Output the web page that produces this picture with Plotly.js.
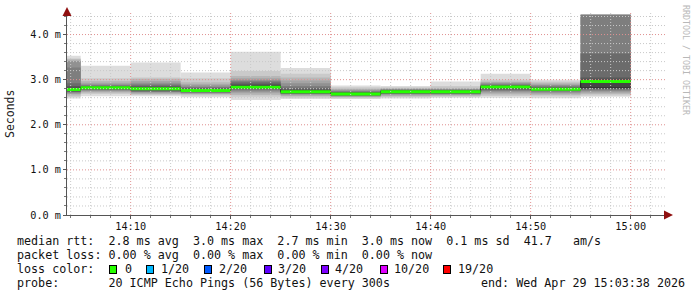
<!DOCTYPE html>
<html><head><meta charset="utf-8">
<script src="https://cdn.plot.ly/plotly-3.0.1.min.js"></script>
<style>html,body{margin:0;padding:0;background:#fff;}#chart{width:697px;height:297px;}</style>
</head><body><div id="chart"></div>
<script>
// ---- data ----
const intervalEnds = ['2026-04-29 14:05:00','2026-04-29 14:10:00','2026-04-29 14:15:00','2026-04-29 14:20:00',
  '2026-04-29 14:25:00','2026-04-29 14:30:00','2026-04-29 14:35:00','2026-04-29 14:40:00',
  '2026-04-29 14:45:00','2026-04-29 14:50:00','2026-04-29 14:55:00','2026-04-29 15:00:00'];
const stepSeconds = 300;
const medianRtt = [2.78, 2.82, 2.80, 2.76, 2.83, 2.73, 2.68, 2.73, 2.73, 2.84, 2.79, 2.96];
const lossCount = [0, 0, 0, 0, 0, 0, 0, 0, 0, 0, 0, 0];
// 20 sorted ping times (ms) per interval
const ping_1405 = [2.58,2.62,2.65,2.68,2.70,2.72,2.73,2.74,2.75,2.77,2.79,2.82,2.86,2.92,3.27,3.41,3.42,3.45,3.47,3.53];
const ping_1410 = [2.63,2.68,2.71,2.73,2.75,2.77,2.78,2.79,2.80,2.81,2.82,2.84,2.85,2.86,2.88,2.90,2.93,2.97,3.03,3.31];
const ping_1415 = [2.63,2.66,2.68,2.70,2.72,2.73,2.74,2.76,2.78,2.79,2.81,2.83,2.85,2.87,2.90,2.93,2.97,3.02,3.05,3.38];
const ping_1420 = [2.61,2.65,2.67,2.69,2.70,2.71,2.72,2.73,2.74,2.75,2.77,2.78,2.80,2.82,2.84,2.87,2.90,2.94,3.03,3.16];
const ping_1425 = [2.55,2.62,2.66,2.70,2.73,2.76,2.78,2.80,2.81,2.83,2.85,2.88,2.91,2.94,2.97,3.00,3.03,3.08,3.19,3.62];
const ping_1430 = [2.57,2.60,2.63,2.65,2.67,2.68,2.69,2.70,2.71,2.72,2.74,2.77,2.79,2.82,2.86,2.92,2.98,3.05,3.13,3.26];
const ping_1435 = [2.57,2.59,2.61,2.62,2.63,2.64,2.65,2.66,2.67,2.67,2.69,2.70,2.72,2.73,2.74,2.76,2.78,2.80,2.83,2.87];
const ping_1440 = [2.58,2.61,2.63,2.65,2.67,2.68,2.69,2.70,2.71,2.72,2.74,2.75,2.76,2.77,2.78,2.79,2.80,2.81,2.83,2.86];
const ping_1445 = [2.60,2.62,2.64,2.66,2.67,2.68,2.69,2.70,2.71,2.72,2.74,2.75,2.76,2.77,2.78,2.79,2.80,2.82,2.86,2.96];
const ping_1450 = [2.60,2.64,2.67,2.70,2.73,2.75,2.77,2.79,2.81,2.83,2.85,2.86,2.87,2.88,2.90,2.92,2.94,2.96,3.00,3.13];
const ping_1455 = [2.59,2.63,2.66,2.69,2.71,2.73,2.75,2.76,2.77,2.78,2.80,2.81,2.82,2.84,2.86,2.88,2.90,2.93,2.96,3.00];
const ping_1500 = [2.62,2.65,2.68,2.71,2.74,2.76,2.78,2.80,2.81,2.82,2.84,3.00,3.05,3.58,4.44,4.44,4.44,4.44,4.44,4.44];

const xRange = ['2026-04-29 14:03:38', '2026-04-29 15:03:38'];
const xTickVals = ['2026-04-29 14:10','2026-04-29 14:20','2026-04-29 14:30','2026-04-29 14:40','2026-04-29 14:50','2026-04-29 15:00'];
const xTickText = ['14:10','14:20','14:30','14:40','14:50','15:00'];
const yTickVals = [0, 1, 2, 3, 4];
const yTickText = ['0.0 m','1.0 m','2.0 m','3.0 m','4.0 m'];
const yMax = 4.5;

const lossLevels = [0, 1, 2, 3, 4, 10, 19];
const lossLabels = ['0','1/20','2/20','3/20','4/20','10/20','19/20'];
const lossColors = ['#26ff00','#00b8ff','#0059ff','#5e00ff','#7e00ff','#dd00ff','#ff0000'];

const legendLines = [
  'median rtt:  2.8 ms avg  3.0 ms max  2.7 ms min  3.0 ms now  0.1 ms sd  41.7   am/s',
  'packet loss: 0.00 % avg  0.00 % max  0.00 % min  0.00 % now',
  'loss color:',
  'probe:       20 ICMP Echo Pings (56 Bytes) every 300s'
];
const endText = 'end: Wed Apr 29 15:03:38 2026';
const yTitle = 'Seconds';
const watermark = 'RRDTOOL / TOBI OETIKER';

// ---- layout constants (pixels) ----
const W = 697, H = 297, ML = 67, MR = 30, MT = 12, MB = 82;
const PW = W - ML - MR, PH = H - MT - MB;
const px = x => (x - ML) / PW;
const py = y => (H - MB - y) / PH;
const rowY = [241, 255, 269, 283];
const swatchX = [108.5, 146, 204, 264, 320.5, 379.5, 443];
const swatchLabelX = [123.5, 160, 217.5, 277, 333.5, 392.5, 456.5];

function shift(str, sec) {
  const d = new Date(str.replace(' ', 'T') + 'Z');
  return new Date(d.getTime() + sec * 1000).toISOString().replace('T', ' ').slice(0, 19);
}
const nb = s => s.replace(/ /g, '\u00a0');

// ---- traces ----
const pingSets = [ping_1405,ping_1410,ping_1415,ping_1420,ping_1425,ping_1430,ping_1435,ping_1440,ping_1445,ping_1450,ping_1455,ping_1500];
const nPings = 20, half = nPings / 2;
const traces = [];
for (let k = 1; k <= half; k++) {
  const c = Math.floor(190 / half * (half - k)) + 50;
  const h = c.toString(16).padStart(2, '0');
  traces.push({
    type: 'bar', x: intervalEnds,
    base: pingSets.map(p => p[k - 1]),
    y: pingSets.map(p => p[nPings - k] - p[k - 1]),
    width: stepSeconds * 1000, offset: -stepSeconds * 1000,
    marker: {color: '#' + h + h + h, line: {width: 0}},
    hoverinfo: 'skip', showlegend: false
  });
}
// black median step line
const starts = intervalEnds.map(t => shift(t, -stepSeconds));
traces.push({
  type: 'scatter', mode: 'lines',
  x: [starts[0]].concat(intervalEnds), y: [medianRtt[0]].concat(medianRtt),
  line: {color: '#202020', width: 1, shape: 'vh'}, hoverinfo: 'skip', showlegend: false
});
// loss-coloured median bands
function levelIndex(loss) {
  for (let i = 0; i < lossLevels.length; i++) if (loss <= lossLevels[i]) return i;
  return lossLevels.length - 1;
}
lossLevels.forEach((lv, li) => {
  const xs = [], ys = [];
  medianRtt.forEach((m, i) => {
    if (levelIndex(lossCount[i]) === li) { xs.push(starts[i], intervalEnds[i], null); ys.push(m, m, null); }
  });
  if (xs.length) traces.push({type: 'scatter', mode: 'lines', x: xs, y: ys, connectgaps: false,
    line: {color: lossColors[li], width: 3}, hoverinfo: 'skip', showlegend: false});
});

// ---- grid (drawn above the smoke, like rrdtool) ----
const shapes = [];
let t = '2026-04-29 14:04:00';
while (t <= xRange[1]) {
  const major = t.slice(15, 16) === '0';
  shapes.push({type: 'line', layer: 'above', xref: 'x', yref: 'paper', x0: t, x1: t, y0: 0, y1: 1,
    line: {color: major ? '#e09090' : '#c8c8c8', width: 1, dash: '1px,2px'}});
  t = shift(t, 120);
}
const minorX = [];
for (let s = 0; s < shapes.length; s++) minorX.push(shapes[s].x0);
const minorY = [];
for (let i = 1; i * 0.2 < yMax; i++) {
  const v = Math.round(i * 0.2 * 10) / 10;
  minorY.push(v);
  const major = Math.abs(v - Math.round(v)) < 1e-9;
  shapes.push({type: 'line', layer: 'above', xref: 'paper', yref: 'y', x0: 0, x1: 1, y0: v, y1: v,
    line: {color: major ? '#e09090' : '#c8c8c8', width: 1, dash: '1px,2px'}});
}

// ---- annotations ----
const mono = 'DejaVu Sans Mono, monospace';
const ann = [];
ann.push({xref: 'paper', yref: 'paper', x: px(10), y: py(114), text: yTitle, textangle: -90, showarrow: false,
  font: {family: mono, size: 11.5, color: '#222'}, xanchor: 'center', yanchor: 'middle'});
ann.push({xref: 'paper', yref: 'paper', x: px(686), y: py(60), text: nb(watermark), textangle: 90, showarrow: false,
  font: {family: mono, size: 8.3, color: '#b8b8b8'}, xanchor: 'center', yanchor: 'middle'});
legendLines.forEach((s, i) => ann.push({xref: 'paper', yref: 'paper', x: px(16), y: py(rowY[i]), text: nb(s),
  showarrow: false, xanchor: 'left', yanchor: 'middle', borderpad: 0, font: {family: mono, size: 11.7, color: '#111'}}));
ann.push({xref: 'paper', yref: 'paper', x: px(480), y: py(rowY[3]), text: nb(endText), showarrow: false,
  xanchor: 'left', yanchor: 'middle', borderpad: 0, font: {family: mono, size: 11.7, color: '#111'}});
lossLabels.forEach((lab, i) => {
  ann.push({xref: 'paper', yref: 'paper', x: px(swatchX[i]), y: py(rowY[2]), text: '\u00a0', showarrow: false,
    xanchor: 'left', yanchor: 'middle', width: 6, height: 7, bgcolor: lossColors[i], bordercolor: '#000',
    borderwidth: 1, borderpad: 0, font: {family: mono, size: 6}});
  ann.push({xref: 'paper', yref: 'paper', x: px(swatchLabelX[i]), y: py(rowY[2]), text: lab, showarrow: false,
    xanchor: 'left', yanchor: 'middle', borderpad: 0, font: {family: mono, size: 11.7, color: '#111'}});
});
// axis arrows
ann.push({xref: 'paper', yref: 'paper', x: 0, y: py(7), ax: 0, ay: 6, text: '', showarrow: true,
  arrowhead: 2, arrowsize: 1.2, arrowwidth: 1.5, arrowcolor: '#901010'});
ann.push({xref: 'paper', yref: 'paper', x: px(673), y: 0, ax: -7, ay: 0, text: '', showarrow: true,
  arrowhead: 2, arrowsize: 1.2, arrowwidth: 1.5, arrowcolor: '#901010'});

const layout = {
  width: W, height: H, margin: {l: ML, r: MR, t: MT, b: MB, pad: 0},
  paper_bgcolor: '#ffffff', plot_bgcolor: '#ffffff', showlegend: false, barmode: 'overlay',
  font: {family: mono, size: 10.5, color: '#111'},
  xaxis: {type: 'date', range: xRange, tickmode: 'array', tickvals: xTickVals, ticktext: xTickText,
    showgrid: false, zeroline: false, showline: true, linecolor: '#555', linewidth: 1,
    ticks: 'outside', ticklen: 3, tickcolor: '#555', ticklabelstandoff: -1,
    tickfont: {family: mono, size: 10.2, color: '#111'},
    minor: {tickmode: 'array', tickvals: minorX, ticks: 'outside', ticklen: 2, tickcolor: '#777', showgrid: false},
    fixedrange: true},
  yaxis: {range: [0, yMax], tickmode: 'array', tickvals: yTickVals, ticktext: yTickText,
    showgrid: false, zeroline: false, showline: true, linecolor: '#555', linewidth: 1,
    ticks: 'outside', ticklen: 3, tickcolor: '#555', tickfont: {family: mono, size: 10.2, color: '#111'},
    minor: {tickmode: 'array', tickvals: minorY, ticks: 'outside', ticklen: 2, tickcolor: '#777', showgrid: false},
    fixedrange: true},
  shapes: shapes, annotations: ann
};
Plotly.newPlot('chart', traces, layout, {staticPlot: true, displayModeBar: false});
</script></body></html>
